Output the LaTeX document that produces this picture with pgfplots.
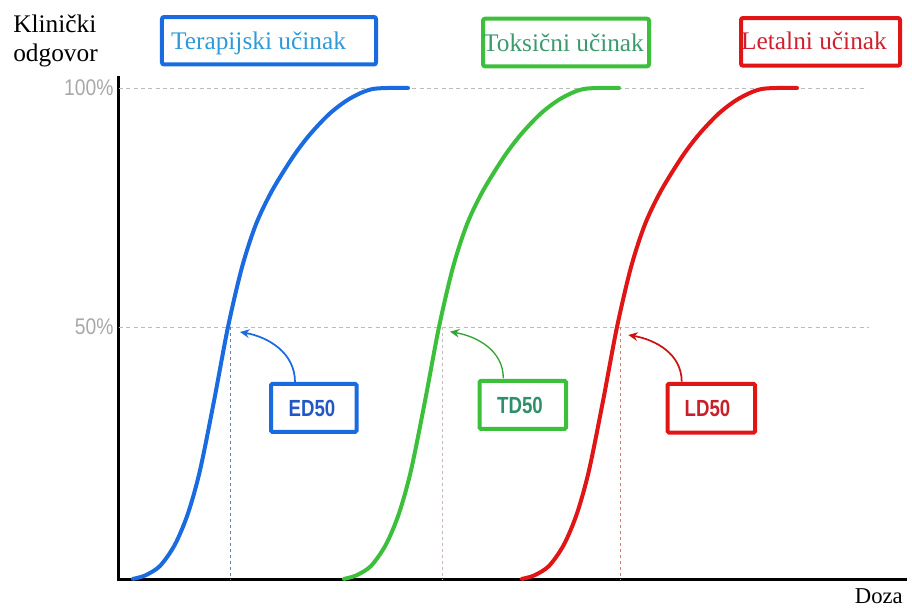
\documentclass[border=0pt]{standalone}
\usepackage{fontspec}
\usepackage{pgfplots}
\pgfplotsset{compat=1.18}
\usetikzlibrary{arrows.meta}
\setmainfont{Liberation Serif}
\newfontfamily\ticksans[FakeStretch=0.85]{Liberation Sans}
\newfontfamily\labsans[FakeStretch=0.8]{Liberation Sans}
\definecolor{cblue}{HTML}{1A6BE0}
\definecolor{cgreen}{HTML}{3CC03C}
\definecolor{cred}{HTML}{E01515}
\definecolor{tblue}{HTML}{2E9BD8}
\definecolor{tgreen}{HTML}{3C9A6E}
\definecolor{tred}{HTML}{D02030}
\definecolor{lblue}{HTML}{2358C4}
\definecolor{lgreen}{HTML}{2E8F6A}
\definecolor{lred}{HTML}{C8202A}
\definecolor{gridgray}{HTML}{BBBBBB}
\definecolor{tickgray}{HTML}{A8A8A8}
\definecolor{vblue}{HTML}{6680AA}
\definecolor{vgreen}{HTML}{C8B8B8}
\definecolor{vred}{HTML}{CC8080}
\begin{document}
\begin{tikzpicture}
\begin{axis}[
  width=589.5pt, height=376.5pt, scale only axis,
  xmin=119, xmax=905, ymin=-2.93, ymax=102.1,
  axis x line=bottom, axis y line=left,
  axis line style={line width=2.25pt, -, black, line cap=rect},
  xtick=\empty, ytick={50,100}, yticklabels={50\%,100\%},
  major tick length=0pt,
  yticklabel style={font=\ticksans\fontsize{17}{20}\selectfont, text=tickgray, inner sep=4pt},
  clip=false,
]
\path (axis cs:0,-9.0) rectangle (axis cs:912,118.41);
% grid lines
\draw[gridgray, line width=0.6pt, dash pattern=on 3pt off 2.5pt] (axis cs:119,100) -- (axis cs:867,100);
\draw[gridgray, line width=0.6pt, dash pattern=on 3pt off 2.5pt] (axis cs:119,50) -- (axis cs:869,50);
% vertical dashed lines
\draw[vblue, line width=0.6pt, dash pattern=on 2.5pt off 2pt] (axis cs:230,50) -- (axis cs:230,-2.93);
\draw[vgreen, line width=0.6pt, dash pattern=on 2.5pt off 2pt] (axis cs:442,50) -- (axis cs:442,-2.93);
\draw[vred, line width=0.6pt, dash pattern=on 2.5pt off 2pt] (axis cs:620,50) -- (axis cs:620,-2.93);
% curves
\addplot[cblue, line width=3pt, smooth, line cap=round] coordinates {
 (133,-2.7) (145,-2.0) (160,0) (175,4.5) (188,11) (200,20) (214,34.5) (228,50) (242,62.5) (256,71.5) (272,78.5) (293,85.6) (310,90.3) (330,94.7) (350,97.8) (373,99.8) (408,100)};
\addplot[cgreen, line width=3pt, smooth, line cap=round] coordinates {
 (344,-2.7) (356,-2.0) (371,0) (386,4.5) (399,11) (411,20) (425,34.5) (439,50) (453,62.5) (467,71.5) (483,78.5) (504,85.6) (521,90.3) (541,94.7) (561,97.8) (584,99.8) (619,100)};
\addplot[cred, line width=3pt, smooth, line cap=round] coordinates {
 (522,-2.7) (534,-2.0) (549,0) (564,4.5) (577,11) (589,20) (603,34.5) (617,50) (631,62.5) (645,71.5) (661,78.5) (682,85.6) (699,90.3) (719,94.7) (739,97.8) (762,99.8) (797,100)};
% axis titles
\node[anchor=base west, font=\fontsize{19}{22}\selectfont, inner sep=0pt] at (axis cs:13,111.51) {Klinički};
\node[anchor=base west, font=\fontsize{19}{22}\selectfont, inner sep=0pt] at (axis cs:13,105.44) {odgovor};
\node[anchor=base east, font=\fontsize{17}{20}\selectfont, inner sep=0pt] at (axis cs:903,-7.95) {Doza};
% top boxes
\draw[cblue, line width=3pt, rounded corners=1.5pt] (axis cs:162,114.85) rectangle (axis cs:376,104.92);
\node[anchor=base, text=tblue, font=\fontsize{19}{22}\selectfont, inner sep=0pt] at (axis cs:258.5,107.95) {Terapijski učinak};
\draw[cgreen, line width=3pt, rounded corners=1.5pt] (axis cs:483,114.49) rectangle (axis cs:649,104.54);
\node[anchor=base, text=tgreen, font=\fontsize{19}{22}\selectfont, inner sep=0pt] at (axis cs:563.5,107.53) {Toksični učinak};
\draw[cred, line width=3pt, rounded corners=1.5pt] (axis cs:741,114.64) rectangle (axis cs:900,104.67);
\node[anchor=base, text=tred, font=\fontsize{19}{22}\selectfont, inner sep=0pt] at (axis cs:814,107.95) {Letalni učinak};
% small boxes
\draw[cblue, line width=3pt, rounded corners=1pt] (axis cs:271,38.08) rectangle (axis cs:356.5,28.03);
\node[anchor=base, text=lblue, font=\labsans\bfseries\fontsize{17.5}{20}\selectfont, inner sep=0pt] at (axis cs:312,31.24) {ED50};
\draw[cgreen, line width=3pt, rounded corners=1pt] (axis cs:479.5,38.70) rectangle (axis cs:566,28.66);
\node[anchor=base, text=lgreen, font=\labsans\bfseries\fontsize{17.5}{20}\selectfont, inner sep=0pt] at (axis cs:520,31.94) {TD50};
\draw[cred, line width=3pt, rounded corners=1pt] (axis cs:667.5,38.08) rectangle (axis cs:755,27.92);
\node[anchor=base, text=lred, font=\labsans\bfseries\fontsize{17.5}{20}\selectfont, inner sep=0pt] at (axis cs:707.5,31.24) {LD50};
% arrows
\draw[cblue, line width=1.3pt, -{Stealth[length=7pt,width=6.5pt]}] (axis cs:295,38.49) to[out=90,in=-10] (axis cs:240,48.95);
\draw[cgreen!85!black, line width=1pt, -{Stealth[length=7pt,width=6.5pt]}] (axis cs:503.3,39.27) to[out=90,in=-10] (axis cs:450,49.02);
\draw[cred!90!black, line width=1.3pt, -{Stealth[length=7pt,width=6.5pt]}] (axis cs:681.7,38.56) to[out=90,in=-10] (axis cs:628.3,48.33);
\end{axis}
\end{tikzpicture}
\end{document}
